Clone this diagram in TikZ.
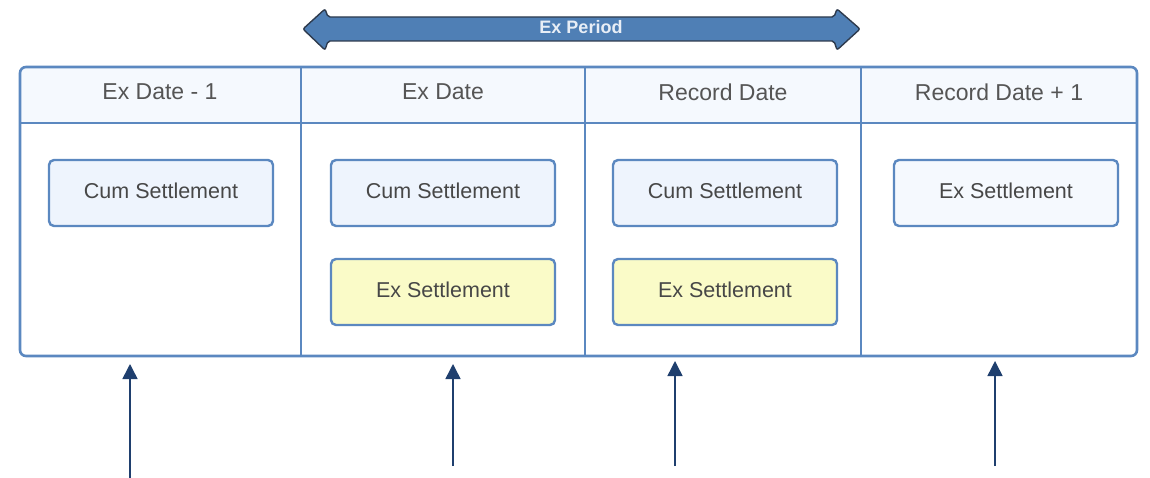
\documentclass[tikz,border=0pt]{standalone}
\usepackage{fontspec}
\setmainfont{Liberation Sans}
\usetikzlibrary{arrows.meta}
\definecolor{frameblue}{HTML}{5B88C0}
\definecolor{headfill}{HTML}{F5F9FE}
\definecolor{cumfill}{HTML}{EEF4FD}
\definecolor{exfill}{HTML}{FAFBC8}
\definecolor{lightfill}{HTML}{F5F9FE}
\definecolor{navy}{HTML}{1F3F6E}
\definecolor{arrowfill}{HTML}{4F7FB5}
\definecolor{arrowedge}{HTML}{2E3B4E}
\definecolor{headtext}{HTML}{555555}
\definecolor{boxtext}{HTML}{474747}
\definecolor{periodtext}{HTML}{E8EEF6}

\begin{document}
\begin{tikzpicture}[x=1pt,y=-1pt,
  frameline/.style={draw=frameblue, line width=2.6pt},
  headlabel/.style={text=headtext, font=\fontsize{23}{27}\selectfont, inner sep=0pt},
  settle/.style={draw=frameblue, line width=2.4pt, rounded corners=5pt,
    minimum width=224pt, minimum height=66pt, inner sep=0pt,
    text height=16pt, text depth=5pt,
    text=boxtext, font=\fontsize{21.5}{25}\selectfont},
  cum/.style={settle, fill=cumfill},
  exy/.style={settle, fill=exfill},
  exl/.style={settle, fill=lightfill},
  pointer/.style={draw=navy, line width=1.5pt, -{Triangle[length=15pt,width=15pt]}}]

\useasboundingbox (0,0) rectangle (1150,478);

% top double arrow for the ex period
\draw[fill=arrowfill, draw=arrowedge, line width=1.4pt, rounded corners=2pt]
  (303,29) -- (325,9) -- (328,17) -- (834,17) -- (837,9) -- (860,29)
  -- (837,50) -- (834,41) -- (328,41) -- (325,50) -- cycle;
\node[text=periodtext, font=\bfseries\fontsize{18}{21}\selectfont, inner sep=0pt]
  (period) at (581,27) {Ex Period};

% table frame with header band
\fill[headfill] (20,123) [rounded corners=6pt]-- (20,67) -- (1137,67) [sharp corners]-- (1137,123) -- cycle;
\draw[frameline, rounded corners=6pt] (20,67) rectangle (1137,356);
\draw[frameline] (20,123) -- (1137,123);
\draw[frameline] (301,67) -- (301,356);
\draw[frameline] (585,67) -- (585,356);
\draw[frameline] (861,67) -- (861,356);

% column headers
\node[headlabel] (h1) at (160,92) {Ex Date - 1};
\node[headlabel] (h2) at (443,92) {Ex Date};
\node[headlabel] (h3) at (723,92) {Record Date};
\node[headlabel] (h4) at (999,92) {Record Date + 1};

% settlement boxes
\node[cum] (c1) at (161,193) {Cum Settlement};
\node[cum] (c2) at (443,193) {Cum Settlement};
\node[exy] (e2) at (443,292) {Ex Settlement};
\node[cum] (c3) at (725,193) {Cum Settlement};
\node[exy] (e3) at (725,292) {Ex Settlement};
\node[exl] (e4) at (1006,193) {Ex Settlement};

% pointers under the columns
\coordinate (p1s) at (130,478);
\coordinate (p1e) at (130,364);
\coordinate (p2s) at (453,466);
\coordinate (p2e) at (453,364);
\coordinate (p3s) at (675,466);
\coordinate (p3e) at (675,361);
\coordinate (p4s) at (995,466);
\coordinate (p4e) at (995,361);
\draw[pointer] (p1s) -- (p1e);
\draw[pointer] (p2s) -- (p2e);
\draw[pointer] (p3s) -- (p3e);
\draw[pointer] (p4s) -- (p4e);
\end{tikzpicture}
\end{document}
